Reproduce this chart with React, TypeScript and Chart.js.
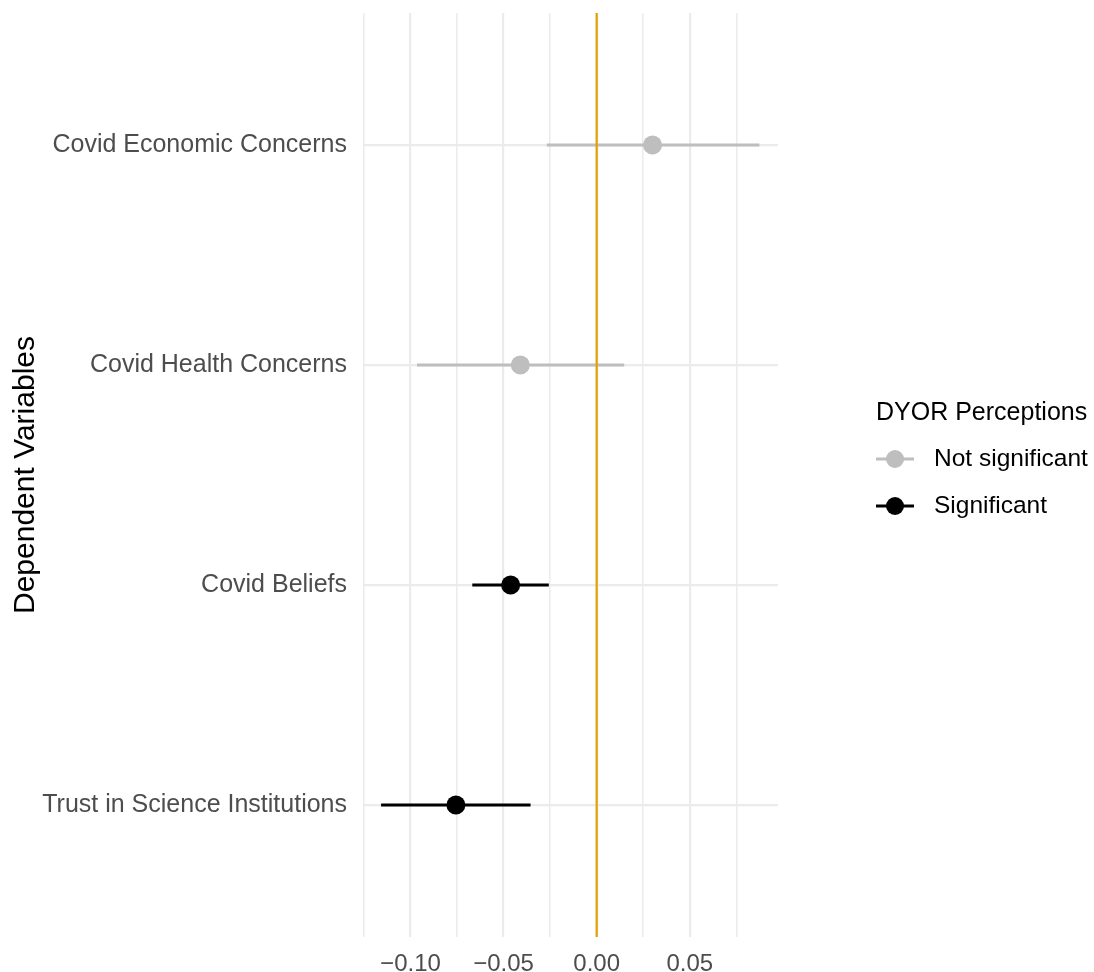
import React, { useEffect, useRef } from "react";
import { Chart, registerables } from "chart.js";

Chart.register(...registerables);

const CATEGORIES = [
  "Covid Economic Concerns",
  "Covid Health Concerns",
  "Covid Beliefs",
  "Trust in Science Institutions",
];
const ESTIMATES = [0.03, -0.041, -0.0462, -0.0756];
const CI_LOW = [-0.0268, -0.0965, -0.0668, -0.1158];
const CI_HIGH = [0.0874, 0.0148, -0.0257, -0.0355];
const SIGNIFICANT = [false, false, true, true];
const X_GRID = [-0.125, -0.1, -0.075, -0.05, -0.025, 0, 0.025, 0.05, 0.075];
const X_LABELED = [-0.1, -0.05, 0, 0.05];
const LEGEND_TITLE = "DYOR Perceptions";
const LEGEND_LABELS = ["Not significant", "Significant"];
const Y_TITLE = "Dependent Variables";

const GRAY = "#bebebe";
const BLACK = "#000000";
const ORANGE = "#E69F00";
const FONT = "'Liberation Sans', Arial, Helvetica, sans-serif";

function fmt(v: number) {
  const s = Math.abs(v).toFixed(2);
  return v < 0 ? "\u2212" + s : s;
}

const legendPlugin = {
  id: "customLegend",
  afterDraw(chart: any) {
    const ctx = chart.ctx;
    ctx.save();
    ctx.fillStyle = "#000";
    ctx.textBaseline = "middle";
    ctx.textAlign = "left";
    ctx.font = `25px ${FONT}`;
    ctx.fillText(LEGEND_TITLE, 876, 413);
    const rows = [459, 506];
    LEGEND_LABELS.forEach((lab, i) => {
      const color = i === 0 ? GRAY : BLACK;
      const y = rows[i];
      ctx.strokeStyle = color;
      ctx.lineWidth = 2.8;
      ctx.beginPath();
      ctx.moveTo(876, y);
      ctx.lineTo(914, y);
      ctx.stroke();
      ctx.fillStyle = color;
      ctx.beginPath();
      ctx.arc(895, y, 9, 0, Math.PI * 2);
      ctx.fill();
      ctx.fillStyle = "#000";
      ctx.font = `24.5px ${FONT}`;
      ctx.fillText(lab, 934, y);
    });
    ctx.restore();
  },
};

export default function App() {
  const ref = useRef<HTMLCanvasElement | null>(null);

  useEffect(() => {
    if (!ref.current) return;
    const ciSets = CATEGORIES.map((c, i) => ({
      label: c + " CI",
      data: [
        { x: CI_LOW[i], y: i },
        { x: CI_HIGH[i], y: i },
      ],
      showLine: true,
      borderColor: SIGNIFICANT[i] ? BLACK : GRAY,
      borderWidth: 2.8,
      pointRadius: 0,
      order: 3,
    }));
    const chart = new Chart(ref.current, {
      type: "scatter",
      data: {
        datasets: [
          {
            label: "Estimates",
            data: CATEGORIES.map((_, i) => ({ x: ESTIMATES[i], y: i })),
            pointRadius: 9.5,
            pointBackgroundColor: SIGNIFICANT.map((s) => (s ? BLACK : GRAY)),
            pointBorderWidth: 0,
            order: 0,
          } as any,
          {
            label: "Zero",
            data: [
              { x: 0, y: -0.6 },
              { x: 0, y: 3.6 },
            ],
            showLine: true,
            borderColor: ORANGE,
            borderWidth: 2.2,
            pointRadius: 0,
            order: 1,
          },
          ...ciSets,
        ],
      },
      options: {
        responsive: false,
        animation: false,
        layout: { padding: { left: 0, right: 316, top: 13, bottom: 0 } },
        plugins: {
          legend: { display: false },
          tooltip: { enabled: false },
        },
        scales: {
          x: {
            type: "linear",
            min: -0.1255,
            max: 0.0974,
            afterBuildTicks: (scale: any) => {
              scale.ticks = X_GRID.map((v) => ({ value: v }));
            },
            afterFit: (scale: any) => {
              scale.height = 35;
              scale.paddingLeft = 0;
              scale.paddingRight = 0;
            },
            border: { display: false },
            grid: {
              color: "#ebebeb",
              lineWidth: (c: any) =>
                X_LABELED.some((v) => Math.abs(v - c.tick?.value) < 1e-9) ? 2.2 : 1.5,
              drawTicks: false,
            },
            ticks: {
              autoSkip: false,
              maxRotation: 0,
              padding: 13,
              color: "#4d4d4d",
              font: { family: FONT, size: 24 },
              callback: (v: any) =>
                X_LABELED.some((t) => Math.abs(t - Number(v)) < 1e-9) ? fmt(Number(v)) : "",
            },
          },
          y: {
            type: "linear",
            reverse: true,
            min: -0.6,
            max: 3.6,
            afterBuildTicks: (scale: any) => {
              scale.ticks = CATEGORIES.map((_, i) => ({ value: i }));
            },
            afterFit: (scale: any) => {
              scale.width = 363;
              scale.paddingTop = 0;
              scale.paddingBottom = 0;
            },
            border: { display: false },
            grid: { color: "#ebebeb", lineWidth: 2.2, drawTicks: false },
            ticks: {
              padding: 16,
              color: "#4d4d4d",
              font: { family: FONT, size: 25 },
              callback: (v: any) => CATEGORIES[Number(v)] ?? "",
            },
            title: {
              display: true,
              text: Y_TITLE,
              color: "#000",
              font: { family: FONT, size: 30 },
              padding: { top: 8, bottom: 0 },
            },
          },
        },
      },
      plugins: [legendPlugin],
    } as any);
    return () => chart.destroy();
  }, []);

  return (
    <div style={{ position: "fixed", left: 0, top: 0, width: 1094, height: 972, background: "#fff" }}>
      <canvas ref={ref} width={1094} height={972} />
    </div>
  );
}
